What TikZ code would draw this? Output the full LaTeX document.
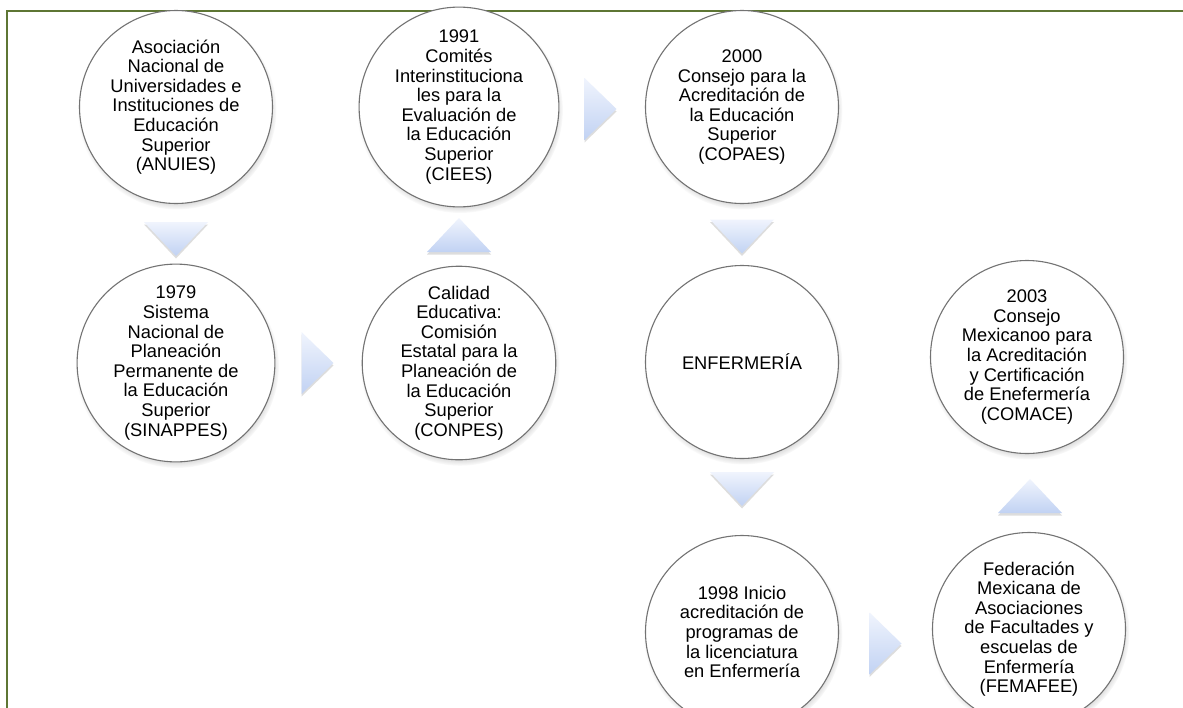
\documentclass[tikz,border=0pt]{standalone}
\usepackage{fontspec}
\setmainfont{Liberation Sans}
\usetikzlibrary{shadows,calc,fadings}
\definecolor{framegreen}{RGB}{94,118,52}
\definecolor{ringgray}{RGB}{115,115,115}
\definecolor{arrtop}{RGB}{240,244,253}
\definecolor{arrbot}{RGB}{193,210,243}
\tikzset{
  stage/.style={circle, draw=ringgray, line width=1.1pt, fill=white,
    minimum size=193pt, inner sep=0pt, align=center,
    font=\fontsize{18.3}{19.6}\selectfont,
    circular drop shadow={shadow xshift=1pt, shadow yshift=-3pt, shadow scale=1.03, opacity=0.6}},
  chev/.style={top color=arrtop, bottom color=arrbot, draw=none,
    drop shadow={shadow xshift=0pt, shadow yshift=-2.5pt, opacity=0.22, fill=black!60}},
}
\begin{document}
\begin{tikzpicture}[x=1pt,y=-1pt]
\useasboundingbox (0,0) rectangle (1183,707);
\clip (0,0) rectangle (1183,707);
\fill[white] (0,0) rectangle (1183,707);
\draw[framegreen, line width=2.5pt] (7,11) rectangle (1195,720);

\node[stage] (anuies) at (176,107) {Asociación\\Nacional de\\Universidades e\\Instituciones de\\Educación\\Superior\\(ANUIES)};
\node[stage] (sinappes) at (176,363) {1979\\Sistema\\Nacional de\\Planeación\\Permanente de\\la Educación\\Superior\\(SINAPPES)};
\node[stage] (conpes) at (459,363) {Calidad\\Educativa:\\Comisión\\Estatal para la\\Planeación de\\la Educación\\Superior\\(CONPES)};
\node[stage] (ciees) at (459,107) {1991\\Comités\\Interinstituciona\\les para la\\Evaluación de\\la Educación\\Superior\\(CIEES)};
\node[stage] (copaes) at (742,107) {2000\\Consejo para la\\Acreditación de\\la Educación\\Superior\\(COPAES)};
\node[stage] (enf) at (742,362) {ENFERMERÍA};
\node[stage] (inicio) at (742,632) {1998 Inicio\\acreditación de\\programas de\\la licenciatura\\en Enfermería};
\node[stage] (femafee) at (1029,629) {Federación\\Mexicana de\\Asociaciones\\de Facultades y\\escuelas de\\Enfermería\\(FEMAFEE)};
\node[stage] (comace) at (1027,357) {2003\\Consejo\\Mexicanoo para\\la Acreditación\\y Certificación\\de Enefermería\\(COMACE)};

% connectors (chevrons) placed between named nodes
\coordinate (d1) at ($(anuies)!0.5!(sinappes)+(0,4)$);
\path[chev] ($(d1)+(-32,-17)$) -- ($(d1)+(32,-17)$) -- ($(d1)+(0,17)$) -- cycle;
\coordinate (r1) at ($(sinappes)!0.5!(conpes)$);
\path[chev] ($(r1)+(-16,-31)$) -- ($(r1)+(16,0)$) -- ($(r1)+(-16,31)$) -- cycle;
\coordinate (u1) at ($(conpes)!0.5!(ciees)$);
\path[chev] ($(u1)+(-32,17)$) -- ($(u1)+(32,17)$) -- ($(u1)+(0,-17)$) -- cycle;
\coordinate (r2) at ($(ciees)!0.5!(copaes)+(0,2)$);
\path[chev] ($(r2)+(-16,-31)$) -- ($(r2)+(16,0)$) -- ($(r2)+(-16,31)$) -- cycle;
\coordinate (d2) at ($(copaes)!0.5!(enf)+(0,2)$);
\path[chev] ($(d2)+(-32,-17)$) -- ($(d2)+(32,-17)$) -- ($(d2)+(0,17)$) -- cycle;
\coordinate (d3) at ($(enf)!0.5!(inicio)+(0,-8)$);
\path[chev] ($(d3)+(-32,-17)$) -- ($(d3)+(32,-17)$) -- ($(d3)+(0,17)$) -- cycle;
\coordinate (r3) at ($(inicio)!0.5!(femafee)+(0,13)$);
\path[chev] ($(r3)+(-16,-31)$) -- ($(r3)+(16,0)$) -- ($(r3)+(-16,31)$) -- cycle;
\coordinate (u2) at ($(femafee)!0.5!(comace)+(2,3)$);
\path[chev] ($(u2)+(-32,17)$) -- ($(u2)+(32,17)$) -- ($(u2)+(0,-17)$) -- cycle;
\end{tikzpicture}
\end{document}
